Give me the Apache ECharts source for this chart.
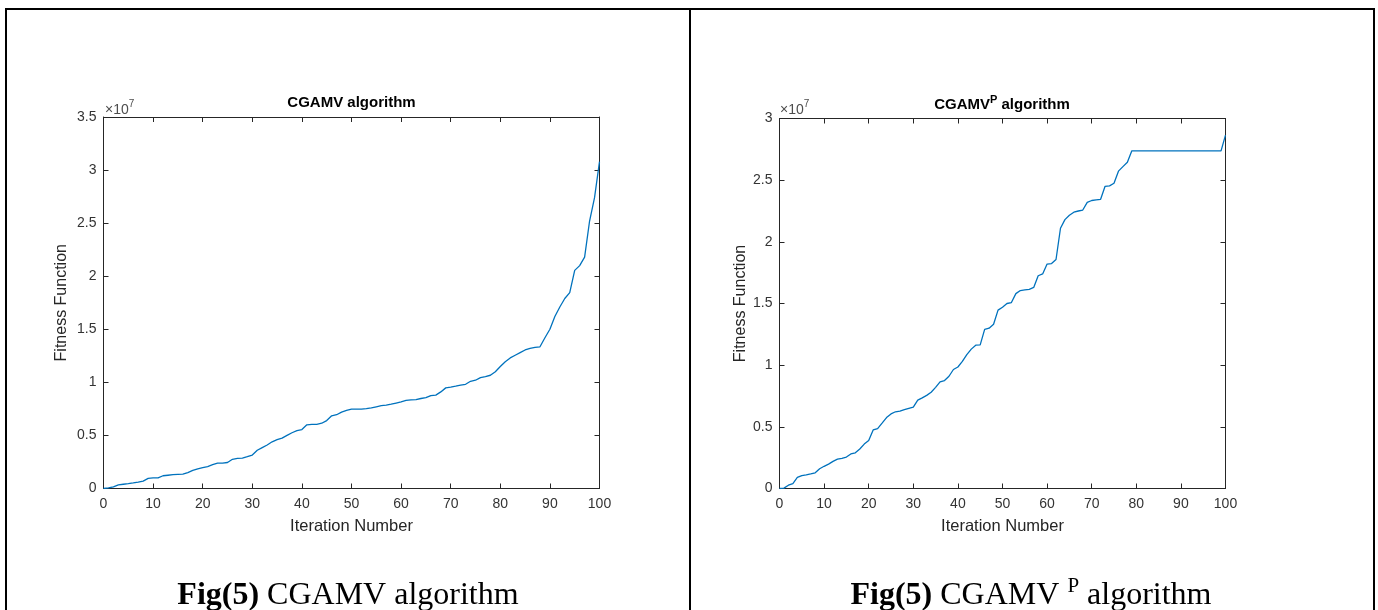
<!DOCTYPE html>
<html><head><meta charset="utf-8">
<script src="https://cdn.jsdelivr.net/npm/echarts@6/dist/echarts.min.js"></script>
<style>html,body{margin:0;padding:0;background:#fff;}#c{width:1378px;height:610px;}</style>
</head><body><div id="c"></div>
<script>
// Fitness values in units of 1e7, index = iteration number (0..100)
const leftFitness = [0,0.005,0.016,0.035,0.04,0.045,0.052,0.06,0.07,0.095,0.10,0.10,0.12,0.125,0.13,0.133,0.135,0.15,0.17,0.185,
0.197,0.207,0.225,0.24,0.24,0.245,0.275,0.283,0.287,0.30,0.315,0.36,0.385,0.41,0.44,0.46,0.475,0.50,0.525,0.545,
0.555,0.60,0.605,0.605,0.615,0.64,0.685,0.695,0.72,0.735,0.747,0.747,0.747,0.752,0.76,0.77,0.78,0.785,0.794,0.805,
0.816,0.83,0.834,0.838,0.848,0.856,0.875,0.88,0.91,0.948,0.955,0.964,0.974,0.982,1.01,1.02,1.045,1.055,1.067,1.10,
1.15,1.195,1.23,1.255,1.28,1.305,1.32,1.33,1.335,1.42,1.50,1.62,1.71,1.79,1.845,2.055,2.10,2.18,2.52,2.74,3.08];
const rightFitness = [0,0.003,0.027,0.04,0.09,0.105,0.11,0.118,0.127,0.16,0.18,0.198,0.22,0.238,0.245,0.255,0.28,0.289,0.32,0.36,
0.39,0.475,0.486,0.53,0.575,0.605,0.622,0.628,0.64,0.65,0.66,0.716,0.735,0.755,0.78,0.82,0.865,0.875,0.91,0.965,
0.985,1.03,1.085,1.13,1.162,1.165,1.29,1.30,1.332,1.446,1.47,1.50,1.508,1.58,1.605,1.61,1.615,1.63,1.725,1.74,
1.82,1.824,1.857,2.11,2.18,2.215,2.24,2.25,2.258,2.32,2.335,2.34,2.345,2.45,2.454,2.475,2.573,2.61,2.645,2.738,
2.738,2.738,2.738,2.738,2.738,2.738,2.738,2.738,2.738,2.738,2.738,2.738,2.738,2.738,2.738,2.738,2.738,2.738,2.738,2.738,2.865];
const xTickInterval = 10;
const leftYMax = 3.5, rightYMax = 3, yTickInterval = 0.5;
const xName = 'Iteration Number';
const yName = 'Fitness Function';
const leftTitle = 'CGAMV algorithm';
const rightTitleMain = 'CGAMV', rightTitleSup = 'P', rightTitleRest = ' algorithm';

const AX = '#262626';
const SANS = '"Liberation Sans", Arial, Helvetica, sans-serif';
const SERIF = '"Liberation Serif", "Times New Roman", serif';

function xAxes(g){
  const common = {gridIndex:g,type:'value',min:0,max:100,interval:xTickInterval,
    axisLine:{show:true,onZero:false,lineStyle:{color:AX,width:1}},
    axisTick:{show:true,inside:true,length:5,lineStyle:{color:AX,width:1}},
    splitLine:{show:false}};
  return [
    Object.assign({},common,{position:'bottom',
      axisLabel:{color:'#333',fontSize:14,fontFamily:SANS,margin:9},
      name:xName,nameLocation:'middle',nameGap:29,
      nameTextStyle:{color:AX,fontSize:16.5,fontFamily:SANS}}),
    Object.assign({},common,{position:'top',axisLabel:{show:false}})
  ];
}
function yAxes(g,max,gap){
  const common = {gridIndex:g,type:'value',min:0,max:max,interval:yTickInterval,
    axisLine:{show:true,onZero:false,lineStyle:{color:AX,width:1}},
    axisTick:{show:true,inside:true,length:5,lineStyle:{color:AX,width:1}},
    splitLine:{show:false}};
  return [
    Object.assign({},common,{position:'left',
      axisLabel:{color:'#333',fontSize:14,fontFamily:SANS,margin:7},
      name:yName,nameLocation:'middle',nameGap:gap,nameRotate:90,
      nameTextStyle:{color:AX,fontSize:16,fontFamily:SANS}}),
    Object.assign({},common,{position:'right',axisLabel:{show:false}})
  ];
}

const chart = echarts.init(document.getElementById('c'),null,{renderer:'canvas'});
const lineStyle = {color:'#0072BD',width:1.3};
chart.setOption({
  backgroundColor:'#fff',
  animation:false,
  grid:[
    {left:103.5,top:117,width:496,height:371.5,containLabel:false},
    {left:779.5,top:118.5,width:446,height:370,containLabel:false}
  ],
  xAxis:[].concat(xAxes(0),xAxes(1)),
  yAxis:[].concat(yAxes(0,leftYMax,34),yAxes(1,rightYMax,31)),
  series:[
    {type:'line',xAxisIndex:0,yAxisIndex:0,showSymbol:false,symbol:'none',lineStyle:lineStyle,
     data:leftFitness.map((v,i)=>[i,v])},
    {type:'line',xAxisIndex:2,yAxisIndex:2,showSymbol:false,symbol:'none',lineStyle:lineStyle,
     data:rightFitness.map((v,i)=>[i,v])}
  ],
  graphic:[
    {type:'rect',shape:{x:5,y:8,width:1370,height:2},style:{fill:'#000'}},
    {type:'rect',shape:{x:5,y:8,width:2,height:602},style:{fill:'#000'}},
    {type:'rect',shape:{x:689,y:8,width:2,height:602},style:{fill:'#000'}},
    {type:'rect',shape:{x:1373,y:8,width:2,height:602},style:{fill:'#000'}},
    // titles
    {type:'text',x:351.5,y:103,style:{text:leftTitle,font:'bold 15px '+SANS,fill:'#000',textAlign:'center',textVerticalAlign:'middle'}},
    {type:'text',x:1002,y:103,style:{text:'{a|'+rightTitleMain+'}{s|'+rightTitleSup+'}{a|'+rightTitleRest+'}',
      textAlign:'center',textVerticalAlign:'middle',
      rich:{a:{font:'bold 15px '+SANS,fill:'#000',lineHeight:18,verticalAlign:'bottom'},
            s:{font:'bold 11px '+SANS,fill:'#000',lineHeight:18,verticalAlign:'top'}}}},
    // exponent labels
    {type:'text',x:105,y:108,style:{text:'{a|×10}{s|7}',textAlign:'left',textVerticalAlign:'middle',
      rich:{a:{font:'14px '+SANS,fill:'#4d4d4d',lineHeight:18,verticalAlign:'bottom'},
            s:{font:'10px '+SANS,fill:'#4d4d4d',lineHeight:18,verticalAlign:'top'}}}},
    {type:'text',x:780,y:108,style:{text:'{a|×10}{s|7}',textAlign:'left',textVerticalAlign:'middle',
      rich:{a:{font:'14px '+SANS,fill:'#4d4d4d',lineHeight:18,verticalAlign:'bottom'},
            s:{font:'10px '+SANS,fill:'#4d4d4d',lineHeight:18,verticalAlign:'top'}}}},
    // captions
    {type:'text',x:348,y:594,style:{text:'{b|Fig(5)}{r| CGAMV algorithm}',textAlign:'center',textVerticalAlign:'middle',
      rich:{b:{font:'bold 32px '+SERIF,fill:'#000',lineHeight:36,verticalAlign:'bottom'},
            r:{font:'32px '+SERIF,fill:'#000',lineHeight:36,verticalAlign:'bottom'}}}},
    {type:'text',x:1031,y:594,style:{text:'{b|Fig(5)}{r| CGAMV }{s|P}{r| algorithm}',textAlign:'center',textVerticalAlign:'middle',
      rich:{b:{font:'bold 32px '+SERIF,fill:'#000',lineHeight:36,verticalAlign:'bottom'},
            r:{font:'32px '+SERIF,fill:'#000',lineHeight:36,verticalAlign:'bottom'},
            s:{font:'21px '+SERIF,fill:'#000',lineHeight:36,verticalAlign:'top'}}}}
  ]
});
</script></body></html>
